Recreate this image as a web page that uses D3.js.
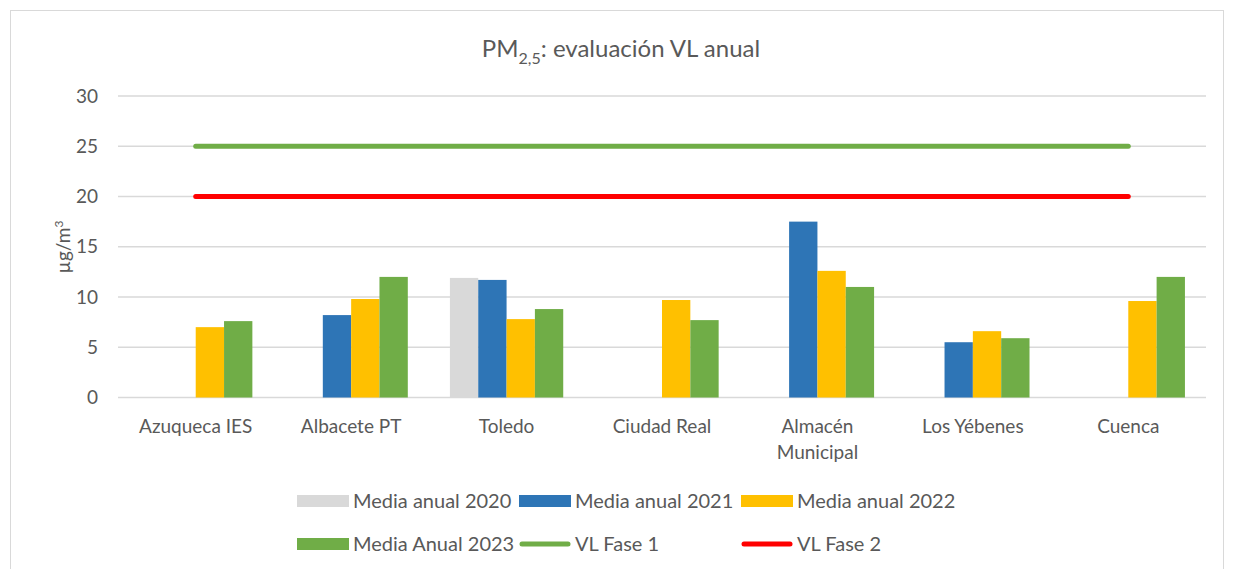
<!DOCTYPE html>
<html>
<head>
<meta charset="utf-8">
<script src="https://cdn.jsdelivr.net/npm/d3@7"></script>
<style>
  body { margin: 0; background: #fff; }
  svg { font-family: Lato, "Open Sans", sans-serif; }
</style>
</head>
<body>
<svg id="chart" width="1234" height="569"></svg>
<script>
// data
const stations = ["Azuqueca IES", "Albacete PT", "Toledo", "Ciudad Real", "Almacén Municipal", "Los Yébenes", "Cuenca"];
const media2020 = [null, null, 11.9, null, null, null, null];
const media2021 = [null, 8.2, 11.7, null, 17.5, 5.5, null];
const media2022 = [7.0, 9.8, 7.8, 9.7, 12.6, 6.6, 9.6];
const media2023 = [7.6, 12.0, 8.8, 7.7, 11.0, 5.9, 12.0];
const vlFase1 = 25;
const vlFase2 = 20;
const yTicks = [0, 5, 10, 15, 20, 25, 30];

const barSeries = [
  { name: "Media anual 2020", values: media2020, color: "#D9D9D9" },
  { name: "Media anual 2021", values: media2021, color: "#2E75B6" },
  { name: "Media anual 2022", values: media2022, color: "#FFC000" },
  { name: "Media Anual 2023", values: media2023, color: "#70AD47" }
];
const limitSeries = [
  { name: "VL Fase 1", value: vlFase1, color: "#70AD47" },
  { name: "VL Fase 2", value: vlFase2, color: "#FF0000" }
];

const svg = d3.select("#chart");
const textColor = "#595959";
const plotLeft = 118, plotRight = 1206, plotTop = 96, plotBottom = 397.5;

// outer chart border
svg.append("rect")
  .attr("x", 10.5).attr("y", 10.5)
  .attr("width", 1213).attr("height", 570)
  .attr("fill", "none").attr("stroke", "#D9D9D9");

const x0 = d3.scaleBand().domain(stations).range([plotLeft, plotRight]).padding(0);
const x1 = d3.scaleBand().domain(barSeries.map(s => s.name))
  .range([0, x0.bandwidth() * 0.729]);
const groupOffset = (x0.bandwidth() - x1.range()[1]) / 2;
const y = d3.scaleLinear().domain([0, 30]).range([plotBottom, plotTop]);

// gridlines
svg.append("g")
  .selectAll("line")
  .data(yTicks)
  .enter().append("line")
    .attr("x1", plotLeft).attr("x2", plotRight)
    .attr("y1", d => y(d)).attr("y2", d => y(d))
    .attr("stroke", "#D9D9D9").attr("stroke-width", 1.3);

// y axis labels
const yAxis = svg.append("g")
  .attr("transform", `translate(${plotLeft},0)`)
  .call(d3.axisLeft(y).tickValues(yTicks).tickSize(0).tickPadding(20));
yAxis.select(".domain").remove();
yAxis.selectAll("text")
  .attr("fill", textColor)
  .style("font-size", "19px")
  .style("font-family", "Lato, sans-serif");

// bars
const groups = svg.append("g")
  .selectAll("g")
  .data(stations)
  .enter().append("g")
    .attr("transform", d => `translate(${x0(d) + groupOffset},0)`);

groups.selectAll("rect")
  .data((d, i) => barSeries
    .map(s => ({ name: s.name, color: s.color, value: s.values[i] }))
    .filter(b => b.value != null))
  .enter().append("rect")
    .attr("x", d => x1(d.name))
    .attr("width", x1.bandwidth())
    .attr("y", d => y(d.value))
    .attr("height", d => y(0) - y(d.value))
    .attr("fill", d => d.color);

// limit lines from first to last category centre
const line = d3.line().x(d => d[0]).y(d => d[1]);
limitSeries.forEach(s => {
  const pts = stations.map(st => [x0(st) + x0.bandwidth() / 2, y(s.value)]);
  svg.append("path")
    .attr("d", line(pts))
    .attr("fill", "none")
    .attr("stroke", s.color)
    .attr("stroke-width", 5)
    .attr("stroke-linecap", "round");
});

// category labels
const xLabels = svg.append("g");
stations.forEach(st => {
  const cx = x0(st) + x0.bandwidth() / 2;
  const t = xLabels.append("text")
    .attr("x", cx).attr("y", 433)
    .attr("text-anchor", "middle")
    .attr("fill", textColor)
    .style("font-size", "19px");
  if (st === "Almacén Municipal") {
    t.append("tspan").attr("x", cx).text("Almacén");
    t.append("tspan").attr("x", cx).attr("dy", 26).text("Municipal");
  } else {
    t.text(st);
  }
});

// y axis title
const yTitle = svg.append("text")
  .attr("transform", "translate(70,247) rotate(-90)")
  .attr("text-anchor", "middle")
  .attr("fill", textColor)
  .style("font-size", "19px");
yTitle.append("tspan").text("µg/m");
yTitle.append("tspan").attr("dy", -7).style("font-size", "12px").text("3");

// title
const title = svg.append("text")
  .attr("x", 621).attr("y", 57)
  .attr("text-anchor", "middle")
  .attr("fill", textColor)
  .style("font-size", "24px");
title.append("tspan").text("PM");
title.append("tspan").attr("dy", 7).style("font-size", "16px").text("2,5");
title.append("tspan").attr("dy", -7).text(": evaluación VL anual");

// legend
const legendItems = [
  { name: barSeries[0].name, color: barSeries[0].color, type: "bar", x: 297, y: 501 },
  { name: barSeries[1].name, color: barSeries[1].color, type: "bar", x: 519, y: 501 },
  { name: barSeries[2].name, color: barSeries[2].color, type: "bar", x: 741, y: 501 },
  { name: barSeries[3].name, color: barSeries[3].color, type: "bar", x: 297, y: 544 },
  { name: limitSeries[0].name, color: limitSeries[0].color, type: "line", x: 519, y: 544 },
  { name: limitSeries[1].name, color: limitSeries[1].color, type: "line", x: 741, y: 544 }
];
const legend = svg.append("g");
legendItems.forEach(it => {
  if (it.type === "bar") {
    legend.append("rect")
      .attr("x", it.x).attr("y", it.y - 6)
      .attr("width", 52).attr("height", 12)
      .attr("fill", it.color);
  } else {
    legend.append("line")
      .attr("x1", it.x + 3).attr("x2", it.x + 49)
      .attr("y1", it.y).attr("y2", it.y)
      .attr("stroke", it.color).attr("stroke-width", 5)
      .attr("stroke-linecap", "round");
  }
  legend.append("text")
    .attr("x", it.x + 56)
    .attr("y", it.y)
    .attr("dy", "0.35em")
    .attr("fill", textColor)
    .style("font-size", "20px")
    .text(it.name);
});
</script>
</body>
</html>
